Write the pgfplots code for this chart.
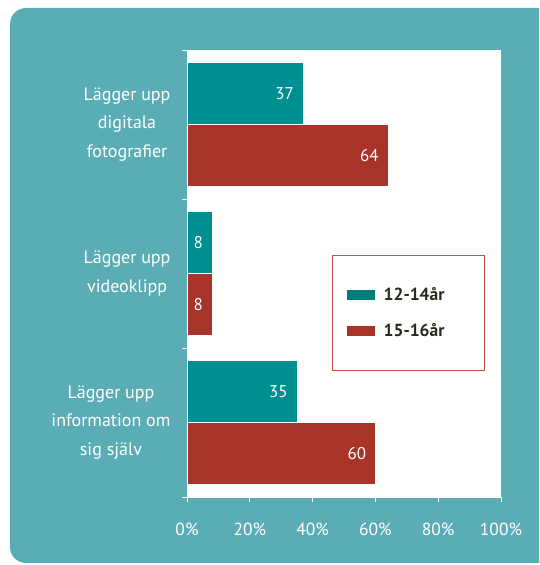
\documentclass[border=0pt]{standalone}
\usepackage{fontspec}
\setmainfont{PT Sans}
\usepackage{pgfplots}
\pgfplotsset{compat=1.18}
\definecolor{bg}{HTML}{5BADB5}
\definecolor{tealbar}{HTML}{008F91}
\definecolor{redbar}{HTML}{A83329}
\definecolor{legteal}{HTML}{007E7B}
\definecolor{legborder}{HTML}{C0504D}
\definecolor{legtext}{HTML}{2B2A1C}
\begin{document}
\begin{tikzpicture}[x=1pt,y=1pt]
\useasboundingbox (0,0) rectangle (539,565);
\clip (0,0) rectangle (539,565);
\fill[bg, rounded corners=16pt] (10,2) rectangle (556,557);
\begin{axis}[
  at={(187pt,68pt)}, anchor=south west,
  scale only axis, width=314pt, height=447pt,
  xbar, bar width=62pt,
  xmin=0, xmax=100, ymin=-0.5, ymax=2.5,
  axis background/.style={fill=white},
  axis x line*=bottom, axis y line*=left,
  axis line style={draw=white, line width=0.6pt},
  tick align=outside,
  major tick length=5pt, minor tick length=5pt,
  every tick/.style={white, line width=0.8pt},
  xtick={0,20,...,100},
  xticklabel={\pgfmathprintnumber{\tick}\%},
  /pgf/number format/assume math mode=true,
  xticklabel style={text=white, font=\fontsize{17.5}{20}\selectfont, yshift=-17pt},
  ytick={0,1,2},
  yticklabels={{Lägger upp\\information om\\sig själv},{Lägger upp\\videoklipp},{Lägger upp\\digitala\\fotografier}},
  yticklabel style={text=white, align=center, font=\fontsize{18}{28.5}\selectfont, xshift=-8pt},
  major y tick style={draw=none},
  minor ytick={-0.5,0.5,1.5,2.5},
  minor y tick style={white, line width=0.8pt},
  nodes near coords,
  nodes near coords style={anchor=east, text=white, inner sep=0pt, xshift=-9pt, font=\fontsize{17}{19}\selectfont},
  legend style={at={(0.462,0.541)}, anchor=north west, draw=legborder, fill=white,
    font=\fontsize{17.5}{19}\selectfont\bfseries, text=legtext,
    inner xsep=15pt, inner ysep=32pt, row sep=22pt, column sep=9pt,
    nodes={inner sep=0pt, text width=86pt, align=left}},
  legend cell align=left,
  clip=false,
]
\addlegendimage{legend image code/.code={\fill[legteal] (0pt,-4.5pt) rectangle (27pt,4.5pt);}}
\addlegendentry{12-14år}
\addlegendimage{legend image code/.code={\fill[redbar] (0pt,-4.5pt) rectangle (27pt,4.5pt);}}
\addlegendentry{15-16år}
\addplot[fill=tealbar, draw=white, line width=0.4pt, bar shift=31pt, forget plot] coordinates {(37,2) (8,1) (35,0)};
\addplot[fill=redbar, draw=white, line width=0.4pt, bar shift=-31pt, forget plot] coordinates {(64,2) (8,1) (60,0)};
\end{axis}
\end{tikzpicture}
\end{document}
